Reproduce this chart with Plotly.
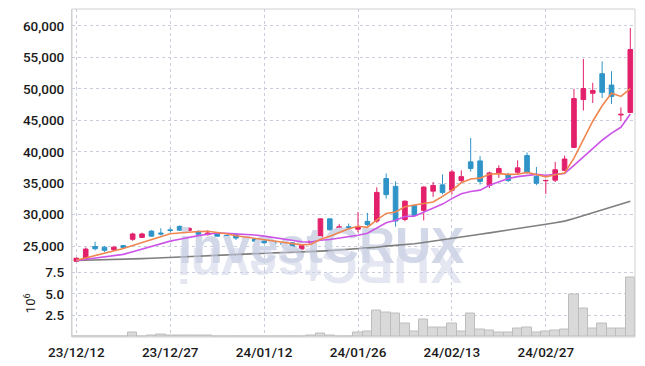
import plotly.graph_objects as go

dates = ["23/12/12","23/12/13","23/12/14","23/12/15","23/12/18","23/12/19","23/12/20","23/12/21","23/12/22","23/12/26",
         "23/12/27","23/12/28","24/01/02","24/01/03","24/01/04","24/01/05","24/01/08","24/01/09","24/01/10","24/01/11",
         "24/01/12","24/01/15","24/01/16","24/01/17","24/01/18","24/01/19","24/01/22","24/01/23","24/01/24","24/01/25",
         "24/01/26","24/01/29","24/01/30","24/01/31","24/02/01","24/02/02","24/02/05","24/02/06","24/02/07","24/02/08",
         "24/02/13","24/02/14","24/02/15","24/02/16","24/02/19","24/02/20","24/02/21","24/02/22","24/02/23","24/02/26",
         "24/02/27","24/02/28","24/02/29","24/03/04","24/03/05","24/03/06","24/03/07","24/03/08","24/03/11","24/03/12"]

open_ = [22620,22950,24950,24850,24450,25100,26100,26400,27400,27100,
         27600,28150,27500,27350,26850,27100,26700,26800,26350,26150,
         26050,25800,25450,25550,24550,25500,26500,29350,27600,28100,
         27700,28950,29000,35750,34500,29250,31450,30700,33750,34750,
         33900,35450,38400,38550,34650,36550,36400,36750,39400,36100,
         35400,35500,37050,40700,48300,49300,52400,50600,45850,46250]
high = [23150,24800,25700,25050,25050,25200,27150,27150,27550,27850,
        28000,28300,28000,27550,27550,27200,26800,26900,26450,26250,
        26150,25900,25600,25650,25200,26150,29400,29400,28550,28600,
        30450,30300,34350,36550,35300,32300,31600,34500,35200,36400,
        37150,37050,42200,39300,36850,37850,36650,38650,39900,37600,
        35500,38400,39400,50000,54750,50950,54350,52800,47050,59650]
low = [22550,22900,24350,24100,24250,24700,25850,26300,26550,26700,
       27200,27450,27400,26800,26700,26500,26000,26000,25700,25700,
       25400,25150,25100,24700,24450,25450,26450,27500,27050,27250,
       27200,28200,28700,32550,28100,28950,29800,29100,32850,33250,
       33200,35050,36850,34800,34250,35850,35200,36400,36500,34700,
       33300,35200,36950,40600,46550,47750,48550,47600,44850,46200]
close = [23100,24550,24600,24350,24850,24800,26950,26950,26600,26950,
         27500,27550,27850,26900,27100,26600,26450,26300,25900,25800,
         25550,25300,25350,24750,25100,26050,29350,27600,28100,27800,
         28050,28450,33550,33200,29000,32150,29900,34400,34650,33550,
         36800,36050,37350,35300,36650,37350,35450,37450,36750,35000,
         35450,37150,38850,48450,50050,49750,49450,48800,45950,56250]

# moving-average lines (5, 10 and 60 day)
ma5 = [22780,23150,23530,23860,24290,24630,25110,25580,26030,26450,
       26990,27110,27290,27350,27380,27200,26980,26670,26470,26210,
       26000,25770,25580,25350,25210,25310,26120,26570,27240,27780,
       28180,28000,29190,30210,30450,31270,31560,31730,32020,32930,
       33860,35090,35680,35810,36430,36540,36420,36440,36730,36400,
       36020,36360,36640,38980,41990,44850,47310,49300,48800,50040]
ma10 = [22740,22925,23115,23280,23495,23705,24130,24555,24945,25370,
        25810,26110,26435,26690,26915,27095,27045,26980,26910,26795,
        26600,26375,26125,25910,25710,25655,25945,26075,26295,26495,
        26745,27060,27880,28725,29115,29725,29780,30460,31115,31690,
        32565,33325,33705,33915,34680,35200,35755,36060,36270,36415,
        36280,36390,36540,37855,39195,40435,41835,42970,43890,46015]
ma60 = [22730,22760,22790,22820,22860,22890,22960,23030,23100,23170,
        23250,23330,23415,23485,23560,23620,23690,23745,23800,23850,
        23900,23940,23985,24020,24060,24115,24225,24310,24400,24485,
        24575,24670,24850,25025,25130,25285,25405,25600,25800,25980,
        26215,26440,26685,26895,27125,27370,27585,27830,28065,28270,
        28480,28720,28990,29420,29875,30325,30770,31205,31595,32150]

# volume in millions of shares
volume_m = [0.10,0.10,0.08,0.01,0.01,0.01,0.50,0.01,0.15,0.25,
            0.12,0.12,0.12,0.12,0.12,0.01,0.01,0.10,0.10,0.01,
            0.01,0.01,0.01,0.01,0.01,0.15,0.35,0.17,0.10,0.08,
            0.52,0.64,3.07,2.83,2.72,1.56,0.64,2.02,1.10,1.10,
            1.56,0.64,2.72,0.87,0.75,0.52,0.52,0.95,1.06,0.52,
            0.64,0.75,0.87,4.92,3.26,0.98,1.56,0.98,0.98,6.85]

price_ticks = [25000, 30000, 35000, 40000, 45000, 50000, 55000, 60000]
vol_ticks = [2.5, 5.0, 7.5]
vol_ticktext = ["2.5", "5.0", "7.5"]

idx = list(range(len(dates)))
tick_idx = idx[::10]
tick_txt = [dates[i] for i in tick_idx]

PINK = "#e3206b"
BLUE = "#2f94c8"
FONT = "Roboto, DejaVu Sans, sans-serif"
GRID = "#c9ccdc"

fig = go.Figure()

# watermark (drawn first so it sits beneath the marks)
fig.add_trace(go.Scatter(x=[26.1], y=[24250], mode="text", text=["investCRUX"],
                         textposition="middle center",
                         textfont=dict(family="Liberation Sans, Arial, sans-serif", size=50, color="#d2d8e8",
                                       weight="bold"),
                         hoverinfo="skip", showlegend=False, xaxis="x", yaxis="y"))

fig.add_trace(go.Scatter(x=idx, y=ma60, mode="lines", line=dict(color="#7f7f7f", width=1.6),
                         hoverinfo="skip", showlegend=False, xaxis="x", yaxis="y"))
fig.add_trace(go.Scatter(x=idx, y=ma10, mode="lines", line=dict(color="#cc55e8", width=1.6),
                         hoverinfo="skip", showlegend=False, xaxis="x", yaxis="y"))
fig.add_trace(go.Scatter(x=idx, y=ma5, mode="lines", line=dict(color="#ef8650", width=1.6),
                         hoverinfo="skip", showlegend=False, xaxis="x", yaxis="y"))

fig.add_trace(go.Candlestick(x=idx, open=open_, high=high, low=low, close=close,
                             increasing=dict(line=dict(color=PINK, width=1), fillcolor=PINK),
                             decreasing=dict(line=dict(color=BLUE, width=1), fillcolor=BLUE),
                             whiskerwidth=0, showlegend=False, xaxis="x", yaxis="y"))

fig.add_trace(go.Bar(x=idx, y=volume_m, width=1.0,
                     marker=dict(color="#d9d9d9", line=dict(color="#bdbdbd", width=1)),
                     showlegend=False, xaxis="x2", yaxis="y2"))

split = 0.2057
xr = [-0.46, 59.5]

fig.update_layout(
    width=645, height=366,
    margin=dict(l=72, r=10, t=9, b=29, autoexpand=False),
    paper_bgcolor="white", plot_bgcolor="white",
    font=dict(family=FONT, size=13.5, color="#1a1a1a", weight=500),
    bargap=0, hovermode=False,
    xaxis=dict(domain=[0, 1], anchor="y", range=xr, tickvals=tick_idx, ticktext=tick_txt,
               showticklabels=False, showgrid=True, gridcolor=GRID, griddash="dot", gridwidth=1,
               zeroline=False, rangeslider=dict(visible=False), fixedrange=True, automargin=False),
    yaxis=dict(domain=[split, 1], range=[21300, 62680], tickvals=price_ticks, tickformat=",d",
               showgrid=True, gridcolor=GRID, griddash="dot", gridwidth=1, zeroline=False,
               ticks="outside", ticklen=4, tickcolor="rgba(0,0,0,0)", automargin=False,
               showline=True, linecolor="#d0d0d0", linewidth=1),
    xaxis2=dict(domain=[0, 1], anchor="y2", range=xr, tickvals=tick_idx, ticktext=tick_txt,
                showgrid=True, gridcolor=GRID, griddash="dot", gridwidth=1, zeroline=False,
                ticks="outside", ticklen=3, tickcolor="rgba(0,0,0,0)", matches="x",
                tickangle=0, automargin=False),
    yaxis2=dict(domain=[0, split], range=[0, 7.81], tickvals=vol_ticks, ticktext=vol_ticktext,
                showgrid=True, gridcolor=GRID, griddash="dot", gridwidth=1, zeroline=False,
                ticks="outside", ticklen=4, tickcolor="rgba(0,0,0,0)", automargin=False,
                showline=True, linecolor="#d0d0d0", linewidth=1,
                title=dict(text="10<sup>6</sup>", standoff=6, font=dict(size=13, weight=400))),
    shapes=[dict(type="rect", xref="paper", yref="paper", x0=0, x1=1, y0=0, y1=1,
                 line=dict(color="#d0d0d0", width=1), fillcolor="rgba(0,0,0,0)", layer="above")],
    annotations=[dict(text="XURCtsevni", xref="paper", yref="paper", x=0.4414, y=0.13,
                      showarrow=False, textangle=180,
                      font=dict(family="Liberation Sans, Arial, sans-serif", size=50,
                                color="rgba(205,212,230,0.55)", weight="bold"))],
)

fig.write_html("out.html", config={"displayModeBar": False},
               post_script="document.body.style.margin='0px';document.body.style.overflow='hidden';")
